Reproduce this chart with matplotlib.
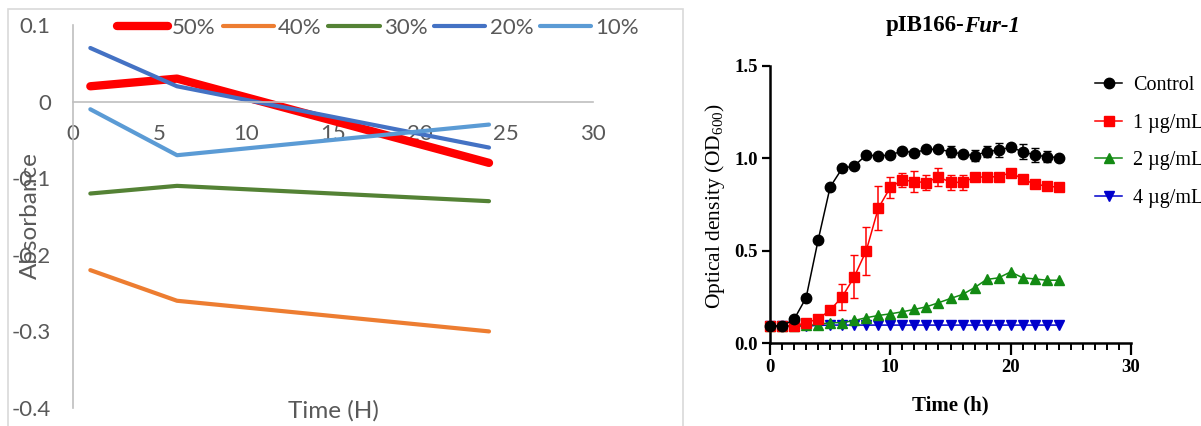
import numpy as np
import matplotlib
matplotlib.use("Agg")
import matplotlib.pyplot as plt
from matplotlib.patches import Rectangle
from matplotlib.lines import Line2D
from matplotlib.ticker import FuncFormatter, MultipleLocator

# left chart: absorbance vs time
time_h = [1, 6, 24]
conc_labels = ['50%', '40%', '30%', '20%', '10%']
abs_50 = [0.02, 0.03, -0.08]
abs_40 = [-0.22, -0.26, -0.30]
abs_30 = [-0.12, -0.11, -0.13]
abs_20 = [0.07, 0.02, -0.06]
abs_10 = [-0.01, -0.07, -0.03]

# right chart: growth curve pIB166-Fur-1
hours = np.arange(25)
series_labels = ['Control', '1 \u00b5g/mL', '2 \u00b5g/mL', '4 \u00b5g/mL']
od_control = [0.092, 0.092, 0.128, 0.245, 0.557, 0.845, 0.946, 0.959, 1.018, 1.013,
              1.018, 1.04, 1.03, 1.049, 1.049, 1.036, 1.023, 1.014, 1.036, 1.045,
              1.06, 1.036, 1.018, 1.009, 1.004]
err_control = [0, 0, 0, 0, 0, 0, 0, 0, 0, 0, 0, 0, 0, 0, 0, 0.03, 0, 0.03, 0.03, 0.04,
               0.02, 0.04, 0.04, 0.03, 0]
od_1 = [0.092, 0.092, 0.092, 0.11, 0.13, 0.178, 0.25, 0.358, 0.50, 0.73,
        0.843, 0.883, 0.874, 0.869, 0.90, 0.87, 0.87, 0.897, 0.90, 0.90,
        0.923, 0.888, 0.86, 0.85, 0.843]
err_1 = [0, 0, 0, 0, 0, 0, 0.072, 0.117, 0.13, 0.12, 0.056, 0.036, 0.056, 0.04, 0.05,
         0.04, 0.04, 0, 0, 0, 0, 0, 0, 0, 0]
od_2 = [0.092, 0.092, 0.092, 0.095, 0.10, 0.11, 0.11, 0.122, 0.137, 0.149,
        0.158, 0.169, 0.182, 0.196, 0.218, 0.241, 0.263, 0.30, 0.344, 0.353,
        0.385, 0.353, 0.347, 0.34, 0.34]
od_4 = [0.092, 0.092, 0.092, 0.092, 0.095, 0.097, 0.097, 0.097, 0.097, 0.097,
        0.097, 0.097, 0.097, 0.097, 0.097, 0.097, 0.097, 0.097, 0.097, 0.097,
        0.097, 0.097, 0.097, 0.097, 0.097]

plt.rcParams['axes.unicode_minus'] = False
plt.rcParams['mathtext.fontset'] = 'custom'
plt.rcParams['mathtext.rm'] = 'Liberation Serif'

excel_font = ['Lato', 'DejaVu Sans']
serif_font = ['Liberation Serif', 'DejaVu Serif']
gray = '#595959'

fig = plt.figure(figsize=(12.01, 4.26), dpi=100)

# ---- left (Excel style) ----
fig.add_artist(Rectangle((8 / 1201, -0.02), 675 / 1201, 1 - 9 / 426 + 0.02,
                         transform=fig.transFigure, fill=False,
                         edgecolor='#D9D9D9', lw=1.2))

ax1 = fig.add_axes([73 / 1201, 18 / 426, 520 / 1201, 383 / 426])
colors = ['#FF0000', '#ED7D31', '#548235', '#4472C4', '#5B9BD5']
widths = [6, 3, 3, 3, 3]
for vals, lab, c, w in zip([abs_50, abs_40, abs_30, abs_20, abs_10], conc_labels, colors, widths):
    ax1.plot(time_h, vals, color=c, lw=w, label=lab, solid_capstyle='round',
             solid_joinstyle='round')
ax1.set_xlim(0, 30)
ax1.set_ylim(-0.4, 0.1)
ax1.xaxis.set_major_locator(MultipleLocator(5))
ax1.yaxis.set_major_locator(MultipleLocator(0.1))
ax1.yaxis.set_major_formatter(FuncFormatter(lambda v, p: '{:g}'.format(round(v, 2))))
for s in ['top', 'right']:
    ax1.spines[s].set_visible(False)
ax1.spines['bottom'].set_position(('data', 0))
for s in ['left', 'bottom']:
    ax1.spines[s].set_color('#BFBFBF')
    ax1.spines[s].set_linewidth(1.2)
ax1.tick_params(length=0, labelsize=16, labelcolor=gray, pad=16)
for t in ax1.get_xticklabels() + ax1.get_yticklabels():
    t.set_family(excel_font)
ax1.patch.set_alpha(0)

leg = fig.legend(loc='center', bbox_to_anchor=(378 / 1201, 1 - 28 / 426), ncol=5,
                 frameon=False, handlelength=2.3, handletextpad=0.2, columnspacing=0.3,
                 borderpad=0, prop={'family': excel_font, 'size': 16})
for t in leg.get_texts():
    t.set_color(gray)

fig.text(30 / 1201, 1 - 216 / 426, 'Absorbance', rotation=90, ha='center', va='center',
         fontsize=17.5, color=gray, family=excel_font)
fig.text(333 / 1201, 1 - 411 / 426, 'Time (H)', ha='center', va='center',
         fontsize=17.5, color=gray, family=excel_font)

# ---- right (GraphPad style) ----
ax2 = fig.add_axes([770 / 1201, 83 / 426, 361 / 1201, 277 / 426])
ax2.errorbar(hours, od_control, yerr=err_control, color='black', marker='o', ms=7.5,
             lw=1.1, capsize=3, elinewidth=1.1, clip_on=False, zorder=5)
ax2.errorbar(hours, od_1, yerr=err_1, color='#FF0000', marker='s', ms=7, lw=1.1,
             capsize=3, elinewidth=1.1, clip_on=False, zorder=4)
ax2.plot(hours, od_2, color='#138A13', marker='^', ms=7.5, lw=1.1, clip_on=False,
         zorder=3)
ax2.plot(hours, od_4, color='#0000CC', marker='v', ms=7.5, lw=1.1, clip_on=False,
         zorder=2)
ax2.set_xlim(0, 30)
ax2.set_ylim(0, 1.5)
ax2.xaxis.set_major_locator(MultipleLocator(10))
ax2.xaxis.set_minor_locator(MultipleLocator(1))
ax2.yaxis.set_major_locator(MultipleLocator(0.5))
ax2.yaxis.set_major_formatter(FuncFormatter(lambda v, p: '{:.1f}'.format(v)))
for s in ['top', 'right']:
    ax2.spines[s].set_visible(False)
for s in ['left', 'bottom']:
    ax2.spines[s].set_linewidth(1.8)
ax2.tick_params(axis='both', which='major', direction='out', width=1.6, labelsize=13.5,
                pad=3)
ax2.tick_params(axis='x', which='major', length=8.5)
ax2.tick_params(axis='y', which='major', length=6)
ax2.tick_params(axis='x', which='minor', direction='out', length=5, width=1.4)
for t in ax2.get_xticklabels() + ax2.get_yticklabels():
    t.set_family(serif_font)
    t.set_fontweight('bold')

fig.text(964 / 1201, 1 - 26 / 426, 'pIB166-', ha='right', va='center', fontsize=16.5,
         fontweight='bold', family=serif_font)
fig.text(964 / 1201, 1 - 26 / 426, 'Fur-1', ha='left', va='center', fontsize=16.5,
         fontweight='bold', style='italic', family=serif_font)
fig.text(950 / 1201, 1 - 405 / 426, 'Time (h)', ha='center', va='center', fontsize=15,
         fontweight='bold', family=serif_font)
fig.text(715 / 1201, 1 - 206 / 426, r'Optical density (OD$_{\mathrm{600}}$)', rotation=90,
         ha='center', va='center', fontsize=15.5, family=serif_font)

handles = [Line2D([], [], color='black', marker='o', ms=7.5, lw=1.1),
           Line2D([], [], color='#FF0000', marker='s', ms=7, lw=1.1),
           Line2D([], [], color='#138A13', marker='^', ms=7.5, lw=1.1),
           Line2D([], [], color='#0000CC', marker='v', ms=7.5, lw=1.1)]
leg2 = fig.legend(handles, series_labels, loc='upper left',
                  bbox_to_anchor=(1095 / 1201, 1 - 76 / 426),
                  frameon=False, handlelength=1.35, handletextpad=0.55, labelspacing=0.92,
                  borderpad=0, borderaxespad=0, prop={'family': serif_font, 'size': 14.5})

fig.savefig('out.png', dpi=100)
